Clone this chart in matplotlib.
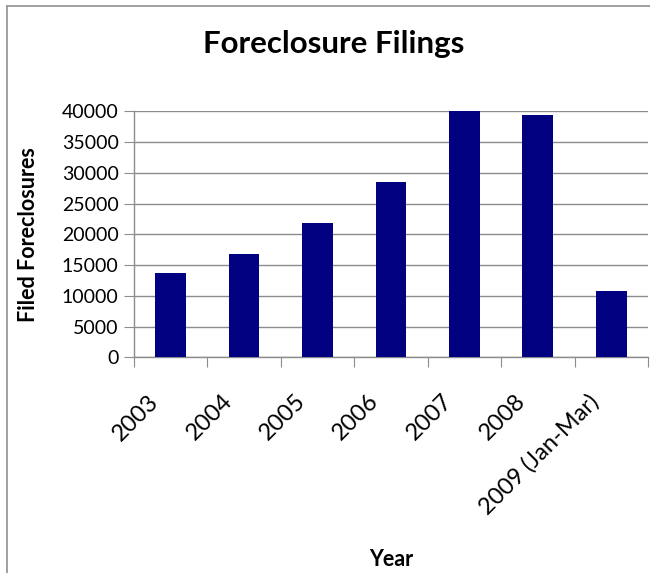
import numpy as np
import matplotlib.pyplot as plt
from matplotlib.transforms import ScaledTranslation
from matplotlib.lines import Line2D

# Данные
years = ['2003', '2004', '2005', '2006', '2007', '2008', '2009 (Jan-Mar)']
filings = [13700, 16750, 21800, 28450, 40000, 39400, 10800]
y_ticks = [0, 5000, 10000, 15000, 20000, 25000, 30000, 35000, 40000]

plt.rcParams['font.family'] = ['Lato', 'DejaVu Sans']

fig = plt.figure(figsize=(6.5, 5.73), dpi=100)
ax = fig.add_axes([0.206, 0.3764, 0.791, 0.4294])

x = np.arange(len(years))
ax.bar(x, filings, width=0.42, color='#000080', zorder=3)

ax.set_xlim(-0.5, len(years) - 0.5)
ax.set_ylim(0, 40000)
ax.set_yticks(y_ticks)
ax.set_yticklabels([str(v) for v in y_ticks], fontsize=14)
ax.yaxis.grid(True, color='#8c8c8c', linewidth=1.0, zorder=0)

# Засечки между категориями, подписи по центру
ax.set_xticks(np.arange(-0.5, len(years), 1))
ax.set_xticklabels([])
ax.set_xticks(x, minor=True)
ax.set_xticklabels(years, minor=True, rotation=45, ha='right', va='top', fontsize=17)
ax.tick_params(axis='x', which='minor', length=0, pad=24)
ax.tick_params(axis='x', which='major', length=7, color='#8c8c8c', direction='out')
ax.tick_params(axis='y', length=7, color='#8c8c8c', direction='out', pad=4)

offset = ScaledTranslation(-0.08, 0, fig.dpi_scale_trans)
for lbl in ax.get_xticklabels(minor=True):
    lbl.set_transform(lbl.get_transform() + offset)

for side in ['top', 'right']:
    ax.spines[side].set_visible(False)
for side in ['left', 'bottom']:
    ax.spines[side].set_color('#8c8c8c')
    ax.spines[side].set_linewidth(1.0)

fig.text(334 / 650, 1 - 44 / 573, 'Foreclosure Filings', ha='center', va='center',
         fontsize=22.5, fontweight='bold')
fig.text(29 / 650, 1 - 235 / 573, 'Filed Foreclosures', ha='center', va='center',
         rotation=90, fontsize=15.5, fontweight='bold')
fig.text(391 / 650, 1 - 559 / 573, 'Year', ha='center', va='center',
         fontsize=15.5, fontweight='bold')

# Рамка области диаграммы
fig.add_artist(Line2D([7 / 650, 7 / 650], [-0.1, 1 - 6 / 573], transform=fig.transFigure,
                      color='#999999', linewidth=1.3))
fig.add_artist(Line2D([7 / 650, 1.1], [1 - 6 / 573, 1 - 6 / 573], transform=fig.transFigure,
                      color='#999999', linewidth=1.3))

fig.savefig('out.png', dpi=100)
